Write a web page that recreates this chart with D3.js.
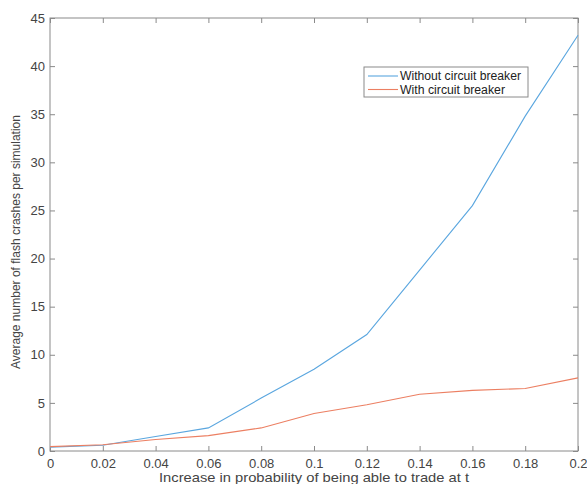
<!DOCTYPE html>
<html>
<head>
<meta charset="utf-8">
<script src="https://cdn.jsdelivr.net/npm/d3@7"></script>
<style>
  body { margin: 0; background: #fff; }
  text { font-family: "Liberation Sans", Arial, sans-serif; }
</style>
</head>
<body>
<svg id="chart" width="587" height="484"></svg>
<script>
// data
let probIncrease = [0, 0.02, 0.04, 0.06, 0.08, 0.1, 0.12, 0.14, 0.16, 0.18, 0.2];
let withoutBreaker = [0.4, 0.6, 1.5, 2.4, 5.5, 8.5, 12.1, 18.8, 25.5, 34.8, 43.2];
let withBreaker = [0.45, 0.65, 1.2, 1.6, 2.4, 3.9, 4.8, 5.9, 6.3, 6.5, 7.6];
let xTicks = [0, 0.02, 0.04, 0.06, 0.08, 0.1, 0.12, 0.14, 0.16, 0.18, 0.2];
let yTicks = [0, 5, 10, 15, 20, 25, 30, 35, 40, 45];
let seriesNames = ["Without circuit breaker", "With circuit breaker"];

let svg = d3.select("#chart");
let plotLeft = 50, plotRight = 578, plotTop = 18, plotBottom = 451;
let axisColor = "#8a8a8a";
let textColor = "#444";
let colors = ["#5aa6df", "#ec7f62"];

let xscale = d3.scaleLinear().domain([0, 0.2]).range([plotLeft, plotRight]);
let yscale = d3.scaleLinear().domain([0, 45]).range([plotBottom, plotTop]);

// box
svg.append("rect")
   .attr("x", plotLeft).attr("y", plotTop)
   .attr("width", plotRight - plotLeft).attr("height", plotBottom - plotTop)
   .attr("fill", "none").attr("stroke", axisColor).attr("stroke-width", 1);

let fmt = d => d === 0 ? "0" : String(d);

// bottom and top axes, ticks inward
let xb = svg.append("g").attr("transform", `translate(0,${plotBottom})`)
    .call(d3.axisBottom(xscale).tickValues(xTicks).tickSize(-5).tickPadding(8).tickFormat(fmt));
let xt = svg.append("g").attr("transform", `translate(0,${plotTop})`)
    .call(d3.axisTop(xscale).tickValues(xTicks).tickSize(-5).tickFormat(""));
let yl = svg.append("g").attr("transform", `translate(${plotLeft},0)`)
    .call(d3.axisLeft(yscale).tickValues(yTicks).tickSize(-5).tickPadding(5));
let yr = svg.append("g").attr("transform", `translate(${plotRight},0)`)
    .call(d3.axisRight(yscale).tickValues(yTicks).tickSize(-5).tickFormat(""));

[xb, xt, yl, yr].forEach(g => {
    g.select(".domain").remove();
    g.selectAll("line").attr("stroke", axisColor);
    g.selectAll("text").attr("fill", textColor).style("font-size", "13px");
});

// axis titles
svg.append("text")
   .attr("x", 314).attr("y", 482)
   .attr("text-anchor", "middle").attr("fill", textColor)
   .style("font-size", "13px")
   .attr("textLength", 310).attr("lengthAdjust", "spacingAndGlyphs")
   .text("Increase in probability of being able to trade at t");
svg.append("text")
   .attr("transform", `translate(20,242) rotate(-90)`)
   .attr("text-anchor", "middle").attr("fill", textColor)
   .style("font-size", "12px")
   .text("Average number of flash crashes per simulation");

// lines
let dline = d3.line()
    .x((d, i) => xscale(probIncrease[i]))
    .y(d => yscale(d));
[withoutBreaker, withBreaker].forEach((s, k) => {
    svg.append("path")
       .datum(s)
       .attr("fill", "none")
       .attr("stroke", colors[k])
       .attr("stroke-width", 1.1)
       .attr("d", dline);
});

// legend
let legendWidths = [121, 105];
let lg = svg.append("g").attr("transform", "translate(364,67)");
lg.append("rect")
  .attr("width", 164).attr("height", 30)
  .attr("fill", "#fff").attr("stroke", axisColor).attr("stroke-width", 1);
seriesNames.forEach((name, k) => {
    let yy = 9 + k * 13.5;
    lg.append("line")
      .attr("x1", 4).attr("x2", 34).attr("y1", yy).attr("y2", yy)
      .attr("stroke", colors[k]).attr("stroke-width", 1.1);
    lg.append("text")
      .attr("x", 36).attr("y", yy + 4)
      .attr("fill", "#222").style("font-size", "12px")
      .attr("textLength", legendWidths[k]).attr("lengthAdjust", "spacingAndGlyphs")
      .text(name);
});
</script>
</body>
</html>
